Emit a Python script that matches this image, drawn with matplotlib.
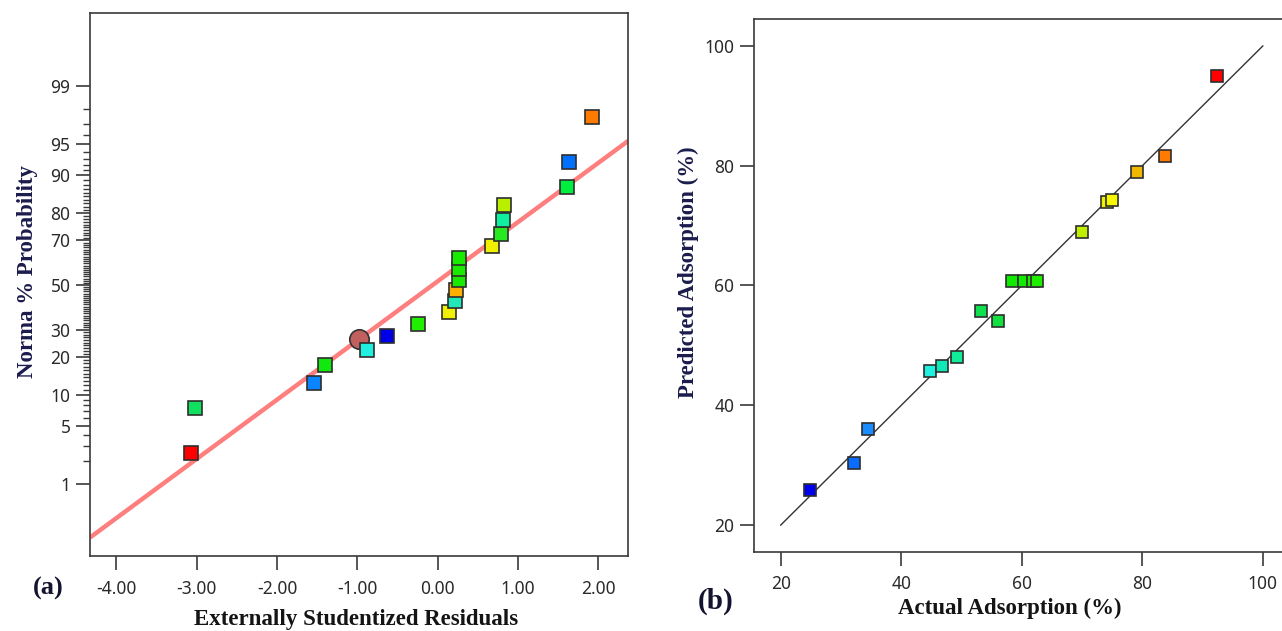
from statistics import NormalDist

import matplotlib
matplotlib.use("Agg")
import matplotlib.pyplot as plt
import numpy as np
from matplotlib.ticker import FixedLocator, FormatStrFormatter

# (a) normal probability plot of externally studentized residuals
resid = [-3.07, -3.02, -1.54, -1.40, -0.874, -0.625, -0.247, 0.143, 0.218, 0.234,
         0.264, 0.264, 0.264, 0.682, 0.795, 0.819, 0.832, 1.609, 1.634, 1.920]
prob = [2.5, 7.5, 12.5, 17.5, 22.5, 27.5, 32.5, 37.5, 42.5, 47.5,
        52.5, 57.5, 62.5, 67.5, 72.5, 77.5, 82.5, 87.5, 92.5, 97.5]
resid_colors = ["#ff0000", "#10e060", "#0a84ff", "#10e810", "#20f0e0", "#0000e8", "#20f000",
                "#f0f000", "#20e8b8", "#ffb000", "#18ea00", "#18ea00", "#18ea00", "#f0f000",
                "#28e820", "#10f0a0", "#b8f000", "#00ee40", "#0070ff", "#ff7a00"]
marked_resid = -0.978
marked_prob = 26.4
fit_mu = -0.061
fit_sigma = 1.445

prob_major = [1, 5, 10, 20, 30, 50, 70, 80, 90, 95, 99]
prob_minor = [p for p in range(2, 99) if p not in prob_major]
resid_ticks = [-4, -3, -2, -1, 0, 1, 2]

# (b) predicted vs actual adsorption
actual = [24.9, 32.2, 34.4, 44.7, 46.8, 49.3, 53.2, 56.0, 58.4, 60.3,
          61.8, 62.6, 70.0, 74.1, 74.9, 79.1, 83.7, 92.4]
predicted = [25.9, 30.4, 36.1, 45.75, 46.6, 48.05, 55.7, 54.1, 60.8, 60.8,
             60.8, 60.8, 68.9, 74.0, 74.2, 78.9, 81.6, 95.0]
actual_colors = ["#0000f0", "#0a6cff", "#1a8cff", "#20f0e0", "#10e8b8", "#10ec98",
                 "#10e050", "#10e040", "#10ec00", "#10ec00", "#20ec00", "#20ec00",
                 "#c0f000", "#f0f000", "#f8f800", "#f0b800", "#ff7a00", "#ff0000"]
adsorption_ticks = [20, 40, 60, 80, 100]

norm = NormalDist()
to_z = np.vectorize(lambda p: norm.inv_cdf(min(max(p / 100.0, 1e-9), 1 - 1e-9)))
from_z = np.vectorize(lambda z: norm.cdf(z) * 100.0)

TICK_FONT = "Noto Sans"
LABEL_FONT = "Liberation Serif"
SPINE = "#3a3a3a"

fig = plt.figure(figsize=(12.82, 6.31), dpi=100)


def style_axes(ax):
    for s in ax.spines.values():
        s.set_color(SPINE)
        s.set_linewidth(1.2)
    ax.tick_params(which="major", direction="out", length=10, width=1.2, color=SPINE,
                   labelsize=12.5, labelcolor="#2a2a2a", pad=7)
    ax.tick_params(axis="y", which="major", pad=4)
    ax.tick_params(which="minor", direction="out", length=5, width=1.0, color=SPINE)
    for lab in ax.get_xticklabels() + ax.get_yticklabels():
        lab.set_fontfamily(TICK_FONT)


# --- panel (a)
ax1 = fig.add_axes([0.0702, 0.1189, 0.4199, 0.861])
ax1.set_yscale("function", functions=(to_z, from_z))
ax1.set_xlim(-4.33, 2.376)
ax1.set_ylim(float(from_z(-3.17)), float(from_z(3.185)))

xs = np.array([-4.33, 2.376])
ax1.plot(xs, from_z((xs - fit_mu) / fit_sigma), color="#ff7f7f", lw=3.2,
         solid_capstyle="butt", zorder=2)
for x, p, c in zip(resid, prob, resid_colors):
    ax1.plot(x, p, "s", ms=9.5, mfc=c, mec="#2e2e2e", mew=1.2, zorder=4)
ax1.plot(marked_resid, marked_prob, "o", ms=14, mfc="#c0605f", mec="#333333",
         mew=1.2, zorder=3)

ax1.xaxis.set_major_locator(FixedLocator(resid_ticks))
ax1.xaxis.set_major_formatter(FormatStrFormatter("%.2f"))
ax1.yaxis.set_major_locator(FixedLocator(prob_major))
ax1.yaxis.set_minor_locator(FixedLocator(prob_minor))
ax1.yaxis.set_major_formatter(FormatStrFormatter("%g"))
ax1.yaxis.set_minor_formatter(plt.NullFormatter())
style_axes(ax1)

# --- panel (b)
ax2 = fig.add_axes([0.5881, 0.1257, 0.4181, 0.8442])
ax2.set_xlim(15.55, 104.5)
ax2.set_ylim(15.55, 104.5)
ax2.plot([20, 100], [20, 100], color="#333333", lw=1.0, zorder=2)
for x, y, c in zip(actual, predicted, actual_colors):
    ax2.plot(x, y, "s", ms=8.5, mfc=c, mec="#2e2e2e", mew=1.2, zorder=4)
ax2.xaxis.set_major_locator(FixedLocator(adsorption_ticks))
ax2.yaxis.set_major_locator(FixedLocator(adsorption_ticks))
style_axes(ax2)

# axis titles and panel letters
W, H = 1282.0, 631.0
label_kw = dict(fontfamily=LABEL_FONT, fontweight="bold", fontsize=16.5,
                ha="center", va="center")
fig.text(356 / W, 1 - 619 / H, "Externally Studentized Residuals", color="#141414", **label_kw)
fig.text(28 / W, 1 - 272 / H, "Norma % Probability", rotation=90, color="#1c1c4c", **label_kw)
fig.text(1010 / W, 1 - 608 / H, "Actual Adsorption (%)", color="#141414", **label_kw)
fig.text(688 / W, 1 - 272 / H, "Predicted Adsorption (%)", rotation=90, color="#1c1c4c",
         **label_kw)
fig.text(48 / W, 1 - 588 / H, "(a)", fontfamily=LABEL_FONT, fontweight="bold",
         fontsize=19, ha="center", va="center", color="#141430")
fig.text(716 / W, 1 - 601 / H, "(b)", fontfamily=LABEL_FONT, fontweight="bold",
         fontsize=21, ha="center", va="center", color="#141430")

fig.savefig("out.png", dpi=100, facecolor="white")
